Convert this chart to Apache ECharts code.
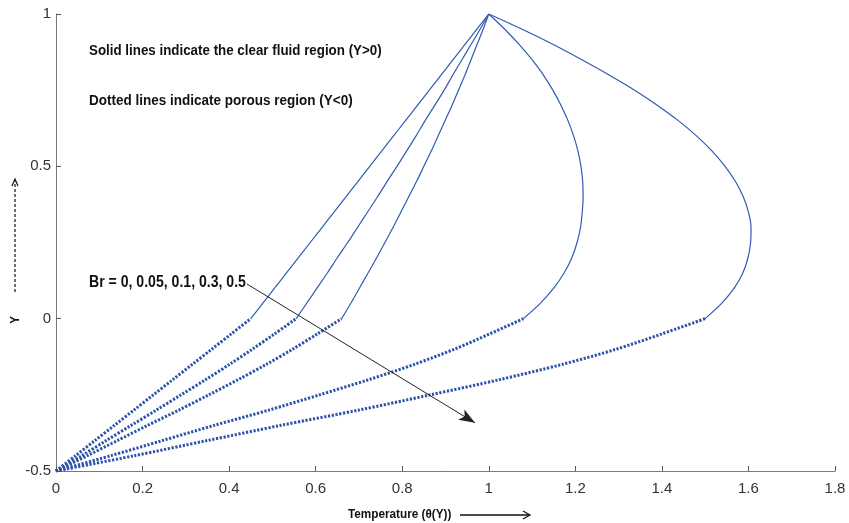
<!DOCTYPE html>
<html>
<head>
<meta charset="utf-8">
<script src="https://cdn.jsdelivr.net/npm/echarts@6/dist/echarts.min.js"></script>
<style>html,body{margin:0;padding:0;background:#fff}#c{width:849px;height:523px}</style>
</head>
<body>
<div id="c"></div>
<script>
// Brinkman numbers of the five curves
const brValues = [0, 0.05, 0.1, 0.3, 0.5];
// Porous region (Y<0), dotted lines
const yPorous = [-0.5, -0.45, -0.4, -0.35, -0.3, -0.25, -0.2, -0.15, -0.1, -0.05, 0];
const porousBr0   = [0, 0.045, 0.09, 0.135, 0.18, 0.225, 0.27, 0.315, 0.36, 0.405, 0.45];
const porousBr005 = [0, 0.059, 0.116, 0.174, 0.232, 0.289, 0.346, 0.401, 0.454, 0.505, 0.555];
const porousBr01  = [0, 0.072, 0.142, 0.212, 0.284, 0.353, 0.421, 0.486, 0.547, 0.604, 0.66];
const porousBr03  = [0, 0.126, 0.246, 0.366, 0.492, 0.609, 0.723, 0.828, 0.921, 1.002, 1.08];
const porousBr05  = [0, 0.18, 0.35, 0.52, 0.70, 0.865, 1.025, 1.17, 1.295, 1.40, 1.5];
// Clear fluid region (Y>0), solid lines
const yClear = [0, 0.05, 0.1, 0.15, 0.2, 0.25, 0.3, 0.35, 0.4, 0.45, 0.5, 0.55, 0.6, 0.65, 0.7, 0.75, 0.8, 0.85, 0.9, 0.95, 1];
const clearBr0   = [0.45, 0.4775, 0.505, 0.5325, 0.56, 0.5875, 0.615, 0.6425, 0.67, 0.6975, 0.725, 0.7525, 0.78, 0.8075, 0.835, 0.8625, 0.89, 0.9175, 0.945, 0.9725, 1.0];
const clearBr005 = [0.555, 0.579, 0.603, 0.627, 0.650, 0.674, 0.697, 0.720, 0.743, 0.765, 0.788, 0.810, 0.832, 0.853, 0.875, 0.897, 0.917, 0.938, 0.959, 0.980, 1.0];
const clearBr01  = [0.66, 0.681, 0.701, 0.721, 0.741, 0.760, 0.779, 0.797, 0.815, 0.833, 0.850, 0.867, 0.883, 0.899, 0.915, 0.930, 0.945, 0.959, 0.973, 0.987, 1.0];
const clearBr03  = [1.080, 1.119, 1.150, 1.174, 1.192, 1.204, 1.212, 1.216, 1.218, 1.217, 1.213, 1.206, 1.196, 1.183, 1.167, 1.148, 1.126, 1.100, 1.070, 1.037, 1.0];
const clearBr05  = [1.500, 1.538, 1.567, 1.587, 1.599, 1.605, 1.606, 1.600, 1.588, 1.570, 1.546, 1.516, 1.480, 1.438, 1.390, 1.337, 1.278, 1.215, 1.149, 1.077, 1.0];
// Axis ticks
const xTicks = [0, 0.2, 0.4, 0.6, 0.8, 1, 1.2, 1.4, 1.6, 1.8];
const yTicks = [-0.5, 0, 0.5, 1];
// Annotation arrow (data coordinates)
const arrowStart = [0.441, 0.114];
const arrowEnd = [0.968, -0.342];

const porousSets = [porousBr0, porousBr005, porousBr01, porousBr03, porousBr05];
const clearSets = [clearBr0, clearBr005, clearBr01, clearBr03, clearBr05];

const BLUE = '#2f5bb1';
const DOT_BLUE = '#2a52aa';
const SANS = '"Liberation Sans",Arial,sans-serif';

const series = [];
brValues.forEach((br, k) => {
  series.push({
    type: 'line', name: 'Br=' + br + ' clear', symbol: 'none', smooth: 0.3,
    lineStyle: { color: BLUE, width: 1.2 },
    data: yClear.map((y, i) => [clearSets[k][i], y]),
    z: 3
  });
  series.push({
    type: 'line', name: 'Br=' + br + ' porous', symbol: 'none', smooth: 0.3,
    lineStyle: { color: DOT_BLUE, width: 3, type: [2.2, 1.6], cap: 'butt' },
    data: yPorous.map((y, i) => [porousSets[k][i], y]),
    z: 3
  });
});
series.push({
  type: 'line', data: [], symbol: 'none', silent: true,
  markLine: {
    silent: true, symbol: ['none', 'arrow'], symbolSize: [9, 16],
    label: { show: false },
    lineStyle: { color: '#222', width: 1, type: 'solid' },
    data: [[{ coord: arrowStart }, { coord: arrowEnd }]]
  }
});

function txt(text, x, y, size, sx) {
  return {
    type: 'text', x: x, y: y, scaleX: sx,
    style: { text: text, fill: '#111', font: 'bold ' + size + 'px ' + SANS, align: 'left', verticalAlign: 'middle' }
  };
}

const chart = echarts.init(document.getElementById('c'), null, { renderer: 'canvas' });
chart.setOption({
  animation: false,
  backgroundColor: '#fff',
  grid: { left: 56, right: 14, top: 14, bottom: 52, containLabel: false },
  xAxis: {
    type: 'value', min: xTicks[0], max: xTicks[xTicks.length - 1], interval: 0.2,
    axisLine: { onZero: false, lineStyle: { color: '#7a7a7a', width: 1 } },
    axisTick: { inside: true, length: 5, lineStyle: { color: '#555' } },
    splitLine: { show: false },
    axisLabel: { color: '#333', fontFamily: SANS, fontSize: 15, margin: 10,
      formatter: v => String(+v.toFixed(1)) }
  },
  yAxis: {
    type: 'value', min: yTicks[0], max: yTicks[yTicks.length - 1], interval: 0.5,
    axisLine: { show: true, onZero: false, lineStyle: { color: '#7a7a7a', width: 1 } },
    axisTick: { show: true, inside: true, length: 5, lineStyle: { color: '#555' } },
    splitLine: { show: false },
    axisLabel: { color: '#333', fontFamily: SANS, fontSize: 15, margin: 5,
      formatter: v => String(+v.toFixed(1)) }
  },
  series: series,
  graphic: [
    txt('Solid lines indicate the clear fluid region (Y>0)', 89, 51, 15, 0.89),
    txt('Dotted lines indicate porous region (Y<0)', 89, 101, 15, 0.9),
    txt('Br = 0, 0.05, 0.1, 0.3, 0.5', 89, 283, 16, 0.88),
    txt('Temperature (\u03b8(Y))', 348, 514, 13.5, 0.87),
    { type: 'line', shape: { x1: 460, y1: 515, x2: 530, y2: 515 }, style: { stroke: '#111', lineWidth: 1.5 } },
    { type: 'polyline', shape: { points: [[523, 511], [530, 515], [523, 519]] }, style: { stroke: '#111', lineWidth: 1.2, fill: null } },
    { type: 'text', x: 15, y: 320, rotation: Math.PI / 2, scaleX: 0.88,
      style: { text: 'Y', fill: '#111', font: 'bold 13px ' + SANS, align: 'center', verticalAlign: 'middle' } },
    { type: 'line', shape: { x1: 15, y1: 292, x2: 15, y2: 180 }, style: { stroke: '#111', lineWidth: 1.2, lineDash: [3, 2] } },
    { type: 'polyline', shape: { points: [[12, 186], [15, 179], [18, 186]] }, style: { stroke: '#111', lineWidth: 1.2, fill: null } }
  ]
});
</script>
</body>
</html>
